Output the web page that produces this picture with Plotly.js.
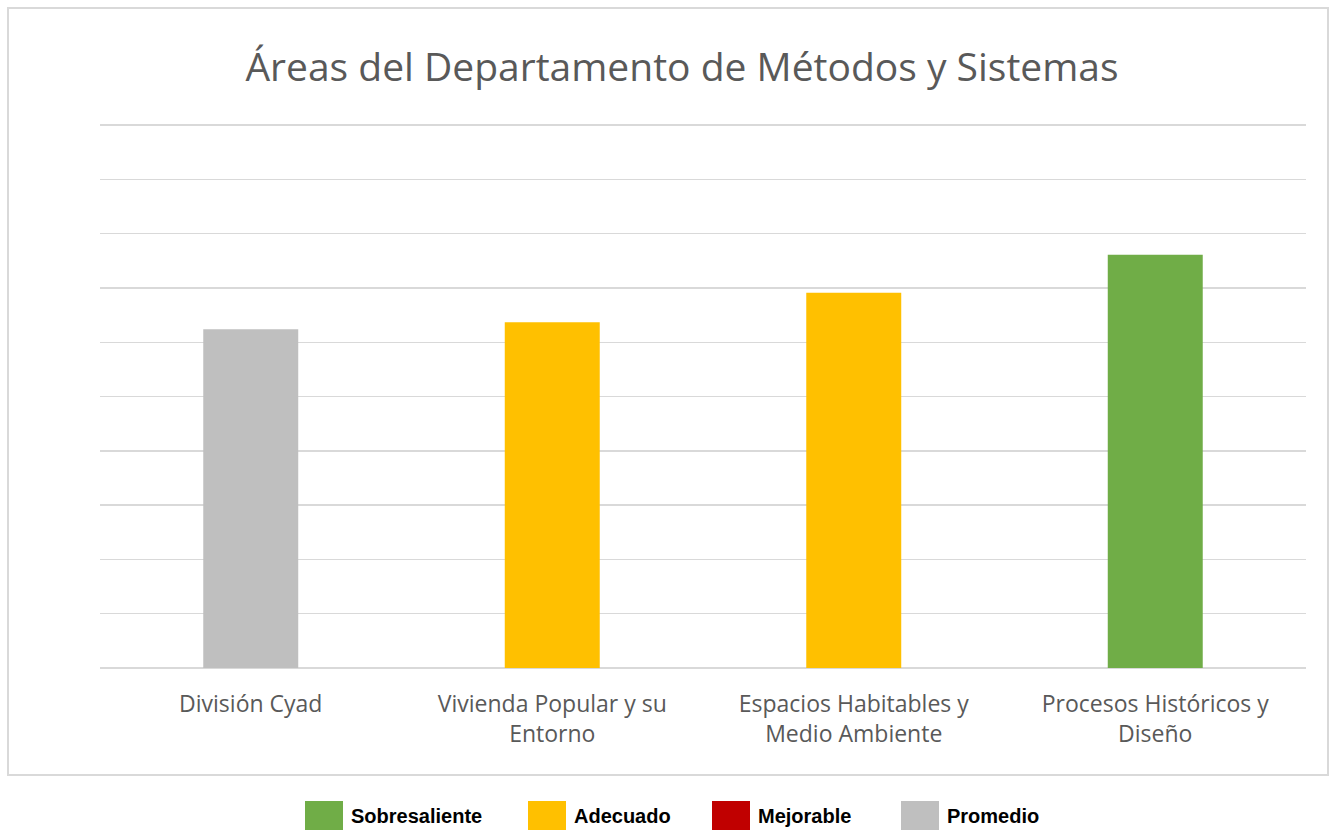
<!DOCTYPE html>
<html>
<head>
<meta charset="utf-8">
<script src="https://cdn.plot.ly/plotly-3.0.1.min.js"></script>
<style>html,body{margin:0;padding:0;background:#fff;}</style>
</head>
<body>
<div id="chart" style="width:1330px;height:830px;"></div>
<script>
const categories = [
  "División Cyad",
  "Vivienda Popular y su<br>Entorno",
  "Espacios Habitables y<br>Medio Ambiente",
  "Procesos Históricos y<br>Diseño"
];
const values = [6.24, 6.37, 6.91, 7.61];
const barColors = ["#bfbfbf", "#ffc000", "#ffc000", "#70ad47"];
const legendLabels = ["Sobresaliente", "Adecuado", "Mejorable", "Promedio"];
const legendColors = ["#70ad47", "#ffc000", "#c00000", "#bfbfbf"];

const W = 1330, H = 830;
const mL = 100, mR = 24, mT = 124, mB = 162;
const pw = W - mL - mR, ph = H - mT - mB;
const px = x => (x - mL) / pw;
const py = y => (H - mB - y) / ph;

const shapes = [{
  type: "rect", xref: "paper", yref: "paper",
  x0: px(8), x1: px(1328), y0: py(775), y1: py(8),
  line: {color: "#d9d9d9", width: 2}, fillcolor: "rgba(0,0,0,0)", layer: "below"
}];
const annotations = [];
const legendSquareX = [305, 528, 712, 901];
legendLabels.forEach((lab, i) => {
  const x0 = legendSquareX[i];
  shapes.push({
    type: "rect", xref: "paper", yref: "paper",
    x0: px(x0), x1: px(x0 + 38), y0: py(830), y1: py(801),
    line: {width: 0}, fillcolor: legendColors[i]
  });
  annotations.push({
    xref: "paper", yref: "paper", x: px(x0 + 44), y: py(816),
    xanchor: "left", yanchor: "middle", showarrow: false,
    text: "<b>" + lab + "</b>",
    font: {family: "Liberation Sans, Arial, sans-serif", size: 20, color: "#000"}
  });
});

const trace = {
  type: "bar",
  x: categories,
  y: values,
  marker: {color: barColors, line: {width: 0}},
  hoverinfo: "x+y"
};

const layout = {
  width: W, height: H,
  margin: {l: mL, r: mR, t: mT, b: mB},
  paper_bgcolor: "#fff", plot_bgcolor: "#fff",
  showlegend: false,
  bargap: 0.685,
  title: {
    text: "Áreas del Departamento de Métodos y Sistemas",
    x: 682 / W, xanchor: "center", y: 1 - 67 / H, yanchor: "middle",
    font: {family: "Open Sans, sans-serif", size: 39, color: "#595959"}
  },
  xaxis: {
    showgrid: false, showline: false, zeroline: false,
    ticks: "", ticklabelstandoff: 20,
    tickfont: {family: "Open Sans, sans-serif", size: 23, color: "#595959"}
  },
  yaxis: {
    range: [0, 10.02], dtick: 1, showticklabels: false, ticks: "",
    showgrid: true, gridcolor: "#d9d9d9", gridwidth: 1.5,
    zeroline: true, zerolinecolor: "#d9d9d9", zerolinewidth: 1.5,
    showline: false, fixedrange: true
  },
  shapes: shapes,
  annotations: annotations
};

Plotly.newPlot("chart", [trace], layout, {displayModeBar: false, staticPlot: true});
</script>
</body>
</html>
